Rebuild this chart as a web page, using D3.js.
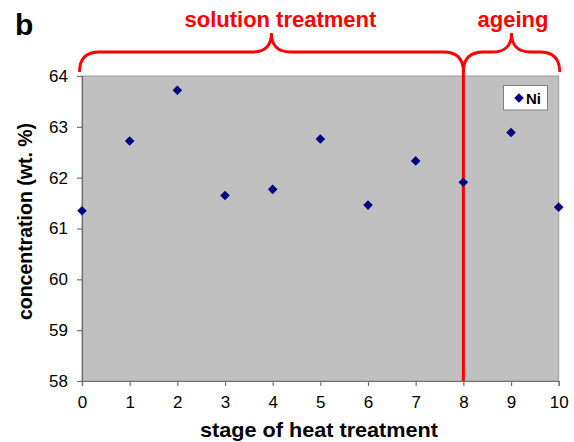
<!DOCTYPE html>
<html>
<head>
<meta charset="utf-8">
<script src="https://cdn.jsdelivr.net/npm/d3@7"></script>
<style>
  html, body { margin: 0; padding: 0; background: #fff; }
  svg { display: block; font-family: Arial, "Liberation Sans", sans-serif; }
</style>
</head>
<body>
<svg id="chart" width="574" height="442"></svg>
<script>
// Ni concentration at each stage of the heat treatment
const stages = [0, 1, 2, 3, 4, 5, 6, 7, 8, 9, 10];
const niValues = [61.35, 62.72, 63.72, 61.65, 61.77, 62.76, 61.46, 62.33, 61.91, 62.89, 61.42];
const xTicks = [0, 1, 2, 3, 4, 5, 6, 7, 8, 9, 10];
const yTicks = [58, 59, 60, 61, 62, 63, 64];
// Treatment phases shown as braces above the plot (in stage units)
const phases = [
  { label: "solution treatment", from: 0, to: 8 },
  { label: "ageing", from: 8, to: 10 }
];
const phaseBoundary = 8;

const svg = d3.select("#chart");
const W = 574, H = 442;
const m = { left: 82, right: W - 558.7, top: 76, bottom: H - 381 };

const x = d3.scaleLinear().domain([0, 10]).range([m.left, W - m.right]);
const y = d3.scaleLinear().domain([58, 64]).range([H - m.bottom, m.top]);

// plot area
svg.append("rect")
  .attr("x", x(0)).attr("y", y(64))
  .attr("width", x(10) - x(0)).attr("height", y(58) - y(64))
  .attr("fill", "#c0c0c0")
  .attr("stroke", "#9a9a9a").attr("stroke-width", 1);

// axes
const xAxis = svg.append("g")
  .attr("transform", `translate(0,${y(58)})`)
  .call(d3.axisBottom(x).tickValues(xTicks).tickFormat(d3.format("d")).tickSizeOuter(0).tickSize(5).tickPadding(10));
const yAxis = svg.append("g")
  .attr("transform", `translate(${x(0)},0)`)
  .call(d3.axisLeft(y).tickValues(yTicks).tickFormat(d3.format("d")).tickSizeOuter(0).tickSize(5).tickPadding(9));
[xAxis, yAxis].forEach(g => {
  g.select(".domain").attr("stroke", "#707070").attr("stroke-width", 1.2);
  g.selectAll(".tick line").attr("stroke", "#707070").attr("stroke-width", 1.2);
  g.selectAll(".tick text").attr("fill", "#000").attr("font-size", 17)
    .attr("font-family", "Arial, 'Liberation Sans', sans-serif");
});

// axis titles
svg.append("text")
  .attr("x", 319).attr("y", 437)
  .attr("text-anchor", "middle")
  .attr("font-size", 21).attr("font-weight", "bold")
  .attr("textLength", 238).attr("lengthAdjust", "spacingAndGlyphs")
  .text("stage of heat treatment");
svg.append("text")
  .attr("transform", `translate(32,${(y(58) + y(64)) / 2 - 7}) rotate(-90)`)
  .attr("text-anchor", "middle")
  .attr("font-size", 19.5).attr("font-weight", "bold")
  .text("concentration (wt. %)");

// panel letter
svg.append("text")
  .attr("x", 15).attr("y", 35)
  .attr("font-size", 30).attr("font-weight", "bold")
  .text("b");

// phase boundary
svg.append("line")
  .attr("x1", x(phaseBoundary)).attr("x2", x(phaseBoundary))
  .attr("y1", 70).attr("y2", y(58))
  .attr("stroke", "#ff0000").attr("stroke-width", 3);

// curly braces with labels
function bracePath(x0, x1, xm, yEnd, yBar, yTip) {
  const r = yEnd - yBar;
  const t = yBar - yTip;
  return `M${x0},${yEnd} Q${x0},${yBar} ${x0 + r},${yBar} L${xm - t},${yBar} Q${xm},${yBar} ${xm},${yTip}` +
         ` Q${xm},${yBar} ${xm + t},${yBar} L${x1 - r},${yBar} Q${x1},${yBar} ${x1},${yEnd}`;
}
const braceEnds = [[x(0) - 2.5, x(8)], [x(8), x(10) + 1]];
const labelShift = [9, 1.5];
phases.forEach((p, i) => {
  const [a, b] = braceEnds[i];
  const mid = (a + b) / 2;
  svg.append("path")
    .attr("d", bracePath(a, b, mid, 72, 52, 33))
    .attr("fill", "none").attr("stroke", "#ff0000").attr("stroke-width", 2.8);
  svg.append("text")
    .attr("x", mid + labelShift[i]).attr("y", 26.5)
    .attr("text-anchor", "middle")
    .attr("font-size", 22).attr("font-weight", "bold")
    .attr("fill", "#ff0000")
    .text(p.label);
});

// diamond marker (square turned 45°)
const diamond = "M0,-4.8 L4.8,0 L0,4.8 L-4.8,0 Z";
svg.append("g").selectAll("path")
  .data(stages.map((s, i) => ({ s, v: niValues[i] })))
  .join("path")
  .attr("d", diamond)
  .attr("transform", d => `translate(${x(d.s)},${y(d.v)})`)
  .attr("fill", "#000080");

// legend
const lg = svg.append("g");
lg.append("rect")
  .attr("x", 503.5).attr("y", 85.5).attr("width", 44).attr("height", 24.5)
  .attr("fill", "#fff").attr("stroke", "#808080").attr("stroke-width", 1);
lg.append("path")
  .attr("d", diamond)
  .attr("transform", "translate(519,98)")
  .attr("fill", "#000080");
lg.append("text")
  .attr("x", 526).attr("y", 103.5)
  .attr("font-size", 15).attr("font-weight", "bold")
  .text("Ni");
</script>
</body>
</html>
